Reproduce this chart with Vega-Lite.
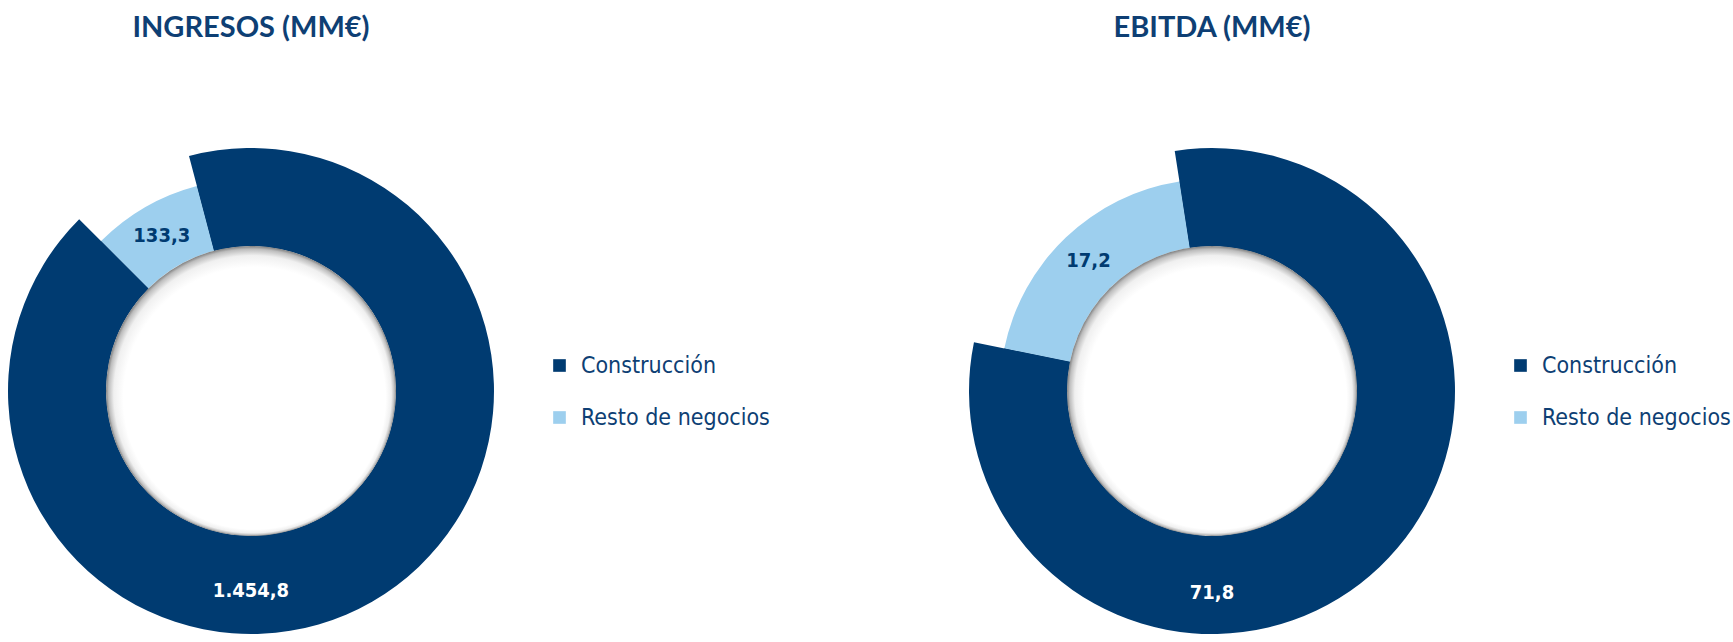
{
  "$schema": "https://vega.github.io/schema/vega-lite/v6.json",
  "padding": {"top": 14, "left": 0, "right": 0, "bottom": 0},
  "background": "white",
  "bounds": "flush",
  "spacing": 459,
  "config": {
    "view": {"stroke": null},
    "title": {"font": "Lato", "fontSize": 29, "fontWeight": "bold", "color": "#0e3f74", "offset": 105, "anchor": "middle"},
    "legend": {
      "orient": "none", "legendX": 548, "legendY": 205, "padding": 0,
      "symbolType": "square", "symbolSize": 160, "symbolStrokeWidth": 0,
      "labelFont": "DejaVu Sans Condensed, sans-serif",
      "labelFontSize": 23, "labelColor": "#0e3f74", "rowPadding": 28, "labelOffset": 10, "labelLimit": 400
    }
  },
  "datasets": {
    "ingresos": [
      {"segmento": "Construcción", "valor": 1454.8, "etiqueta": "1.454,8"},
      {"segmento": "Resto de negocios", "valor": 133.3, "etiqueta": "133,3"}
    ],
    "ebitda": [
      {"segmento": "Construcción", "valor": 71.8, "etiqueta": "71,8"},
      {"segmento": "Resto de negocios", "valor": 17.2, "etiqueta": "17,2"}
    ]
  },
  "hconcat": [
    {
      "width": 502, "height": 484,
      "data": {"name": "ingresos"},
      "title": "INGRESOS (MM€)",
      "layer": [
        {
          "mark": {"type": "arc", "radius": 212, "radius2": 145},
          "encoding": {
            "theta": {"field": "valor", "type": "quantitative", "stack": true, "scale": {"range": [-0.7854, 5.4978]}},
            "color": {"field": "segmento", "type": "nominal", "scale": {"domain": ["Construcción", "Resto de negocios"], "range": ["#003b71", "#9dcfee"]}, "legend": {"title": null}},
            "order": {"field": "segmento", "sort": "descending"}
          }
        },
        {
          "mark": {"type": "arc", "radius": 243, "radius2": 145},
          "encoding": {
            "theta": {"field": "valor", "type": "quantitative", "stack": true},
            "detail": {"field": "segmento"},
            "order": {"field": "segmento", "sort": "descending"},
            "color": {"condition": {"test": "datum.segmento === 'Construcción'", "value": "#003b71"}, "value": "rgba(0,0,0,0)"}
          }
        },
        {
          "mark": {"type": "text", "radius": 179, "font": "DejaVu Sans Condensed, sans-serif", "fontSize": 20, "fontWeight": "bold"},
          "encoding": {
            "theta": {"field": "valor", "type": "quantitative", "stack": true},
            "order": {"field": "segmento", "sort": "descending"},
            "detail": {"field": "segmento"},
            "text": {"field": "etiqueta"},
            "color": {"condition": {"test": "datum.segmento === 'Resto de negocios'", "value": "#003b71"}, "value": "rgba(0,0,0,0)"}
          }
        },
        {
          "transform": [{"filter": "datum.segmento === 'Construcción'"}],
          "mark": {"type": "text", "dy": 200, "baseline": "middle", "align": "center", "font": "DejaVu Sans Condensed, sans-serif", "fontSize": 20, "fontWeight": "bold", "color": "white"},
          "encoding": {"text": {"field": "etiqueta"}}
        },
        {
          "transform": [{"aggregate": [{"op": "count", "as": "n"}]}],
          "mark": {"type": "arc", "theta": 0, "theta2": 6.2832, "radius": 145, "radius2": 0,
            "fill": {"gradient": "radial", "x1": 0.512, "y1": 0.525, "r1": 0.452, "x2": 0.5, "y2": 0.5, "r2": 0.5,
              "stops": [{"offset": 0, "color": "#ffffff"}, {"offset": 0.55, "color": "#f0f0f0"}, {"offset": 0.85, "color": "#bdbdbd"}, {"offset": 1, "color": "#7f7f7f"}]}},
          "encoding": {}
        }
      ]
    },
    {
      "width": 502, "height": 484,
      "data": {"name": "ebitda"},
      "title": "EBITDA (MM€)",
      "layer": [
        {
          "mark": {"type": "arc", "radius": 212, "radius2": 145},
          "encoding": {
            "theta": {"field": "valor", "type": "quantitative", "stack": true, "scale": {"range": [-1.3683, 4.9149]}},
            "color": {"field": "segmento", "type": "nominal", "scale": {"domain": ["Construcción", "Resto de negocios"], "range": ["#003b71", "#9dcfee"]}, "legend": {"title": null}},
            "order": {"field": "segmento", "sort": "descending"}
          }
        },
        {
          "mark": {"type": "arc", "radius": 243, "radius2": 145},
          "encoding": {
            "theta": {"field": "valor", "type": "quantitative", "stack": true},
            "detail": {"field": "segmento"},
            "order": {"field": "segmento", "sort": "descending"},
            "color": {"condition": {"test": "datum.segmento === 'Construcción'", "value": "#003b71"}, "value": "rgba(0,0,0,0)"}
          }
        },
        {
          "mark": {"type": "text", "radius": 179, "font": "DejaVu Sans Condensed, sans-serif", "fontSize": 20, "fontWeight": "bold"},
          "encoding": {
            "theta": {"field": "valor", "type": "quantitative", "stack": true},
            "order": {"field": "segmento", "sort": "descending"},
            "detail": {"field": "segmento"},
            "text": {"field": "etiqueta"},
            "color": {"condition": {"test": "datum.segmento === 'Resto de negocios'", "value": "#003b71"}, "value": "rgba(0,0,0,0)"}
          }
        },
        {
          "transform": [{"filter": "datum.segmento === 'Construcción'"}],
          "mark": {"type": "text", "dy": 202, "baseline": "middle", "align": "center", "font": "DejaVu Sans Condensed, sans-serif", "fontSize": 20, "fontWeight": "bold", "color": "white"},
          "encoding": {"text": {"field": "etiqueta"}}
        },
        {
          "transform": [{"aggregate": [{"op": "count", "as": "n"}]}],
          "mark": {"type": "arc", "theta": 0, "theta2": 6.2832, "radius": 145, "radius2": 0,
            "fill": {"gradient": "radial", "x1": 0.512, "y1": 0.525, "r1": 0.452, "x2": 0.5, "y2": 0.5, "r2": 0.5,
              "stops": [{"offset": 0, "color": "#ffffff"}, {"offset": 0.55, "color": "#f0f0f0"}, {"offset": 0.85, "color": "#bdbdbd"}, {"offset": 1, "color": "#7f7f7f"}]}},
          "encoding": {}
        }
      ]
    }
  ],
  "resolve": {"scale": {"color": "independent", "theta": "independent"}, "legend": {"color": "independent"}}
}
